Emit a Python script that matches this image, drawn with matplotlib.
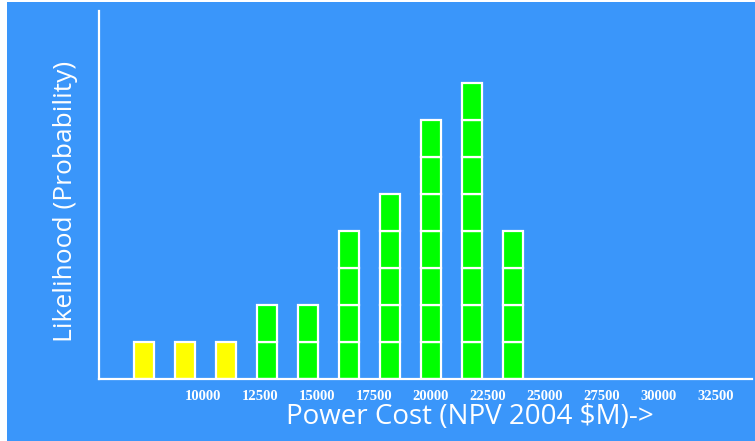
import matplotlib.pyplot as plt
from matplotlib.patches import Rectangle

# Histogram of power cost outcomes (number of stacked boxes per bin)
bin_centers = [7400, 9200, 11000, 12800, 14600, 16400, 18200, 20000, 21800, 23600]
box_counts = [1, 1, 1, 2, 2, 4, 5, 7, 8, 4]
bar_colors = ['#ffff00'] * 3 + ['#00ff00'] * 7
tick_values = [10000, 12500, 15000, 17500, 20000, 22500, 25000, 27500, 30000, 32500]

bg = '#3a96fa'

fig = plt.figure(figsize=(7.55, 4.41), dpi=100, facecolor=bg)
# thin white border on the left/top edge of the original slide
fig.patches.append(Rectangle((0, 0), 7 / 755, 1, transform=fig.transFigure,
                             facecolor='white', edgecolor='none'))
fig.patches.append(Rectangle((0, 1 - 2 / 441), 1, 2 / 441, transform=fig.transFigure,
                             facecolor='white', edgecolor='none'))

ax = fig.add_axes([99 / 755, 62 / 441, 653 / 755, 368 / 441])
ax.set_facecolor(bg)

# draw each bar as a stack of unit boxes
for x, n, c in zip(bin_centers, box_counts, bar_colors):
    ax.bar([x] * n, [1] * n, bottom=list(range(n)), width=880,
           color=c, edgecolor='white', linewidth=1.6, zorder=2)

ax.set_xlim(5440, 34080)
ax.set_ylim(0, 9.95)

for s in ['top', 'right']:
    ax.spines[s].set_visible(False)
for s in ['left', 'bottom']:
    ax.spines[s].set_color('white')
    ax.spines[s].set_linewidth(1.6)

ax.set_yticks([])
ax.set_xticks(tick_values)
ax.set_xticklabels([str(v) for v in tick_values], color='white',
                   fontfamily='Liberation Serif', fontweight='bold', fontsize=10.5)
ax.tick_params(axis='x', length=0, pad=8)

fig.text(470 / 755, 1 - 417 / 441, 'Power Cost (NPV 2004 $M)->', color='white',
         fontfamily='Open Sans', fontsize=20, ha='center', va='center')
fig.text(66 / 755, 1 - 201 / 441, 'Likelihood (Probability)', color='white',
         fontfamily='Open Sans', fontsize=19, ha='center', va='center', rotation=90)

fig.savefig('out.png', dpi=100, facecolor=bg)
